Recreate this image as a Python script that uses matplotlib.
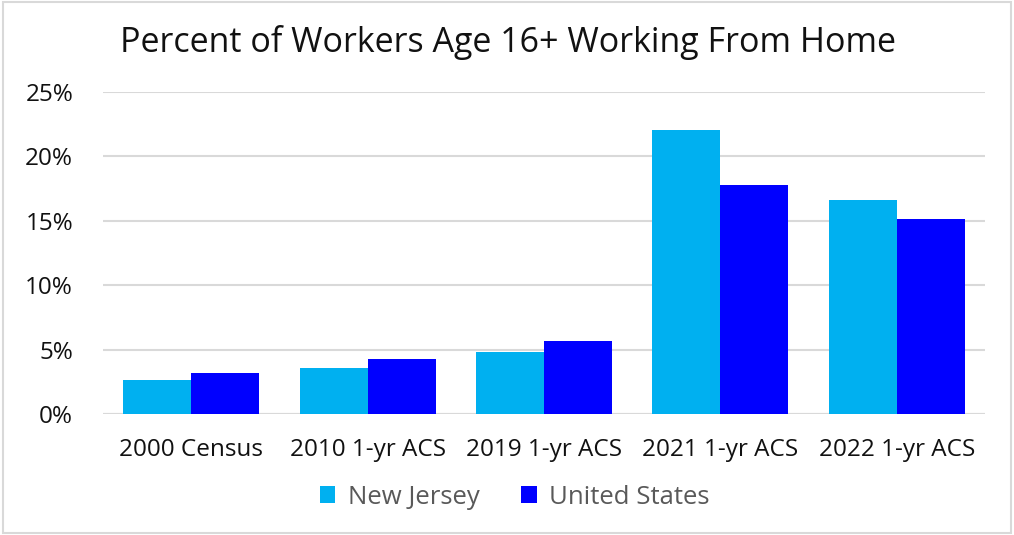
import matplotlib
matplotlib.use("Agg")
import matplotlib.pyplot as plt
from matplotlib.patches import Rectangle
import numpy as np

plt.rcParams["font.family"] = ["Open Sans", "DejaVu Sans"]

categories = ["2000 Census", "2010 1-yr ACS", "2019 1-yr ACS", "2021 1-yr ACS", "2022 1-yr ACS"]
new_jersey = [2.65, 3.55, 4.85, 22.05, 16.6]
united_states = [3.2, 4.25, 5.65, 17.8, 15.15]
yticks = [0, 5, 10, 15, 20, 25]

fig = plt.figure(figsize=(10.14, 5.35), dpi=100)
ax = fig.add_axes([103 / 1014, 1 - 414 / 535, 882 / 1014, (414 - 92) / 535])

x = np.arange(len(categories))
w = 0.385
ax.bar(x - w / 2, new_jersey, w, color="#00b0f0", label="New Jersey", zorder=3)
ax.bar(x + w / 2, united_states, w, color="#0000ff", label="United States", zorder=3)

ax.set_xlim(-0.5, len(categories) - 0.5)
ax.set_ylim(0, 25)
ax.set_yticks(yticks)
ax.set_yticklabels([f"{v}%" for v in yticks])
ax.set_xticks(x)
ax.set_xticklabels(categories)
ax.grid(axis="y", color="#d9d9d9", lw=1.5, zorder=0)
ax.tick_params(length=0, labelsize=17.5, colors="#111111")
ax.tick_params(axis="y", pad=21.5)
ax.tick_params(axis="x", pad=17.5)
for s in ax.spines.values():
    s.set_visible(False)
ax.axhline(0, color="#d9d9d9", lw=1.5, zorder=2)

fig.text(508 / 1014, 1 - 42 / 535, "Percent of Workers Age 16+ Working From Home",
         ha="center", va="center", fontsize=24.5, color="#111111")

leg = fig.legend(loc="center", bbox_to_anchor=(515 / 1014, 1 - 497 / 535), ncol=2,
                 frameon=False, fontsize=18.5, handlelength=0.6, handleheight=0.6,
                 columnspacing=1.6, handletextpad=0.5)
for t in leg.get_texts():
    t.set_color("#595959")

fig.patches.append(Rectangle((3 / 1014, 2 / 535), 1008 / 1014, 531 / 535,
                             transform=fig.transFigure, fill=False,
                             edgecolor="#d9d9d9", lw=1.5))

fig.savefig("out.png", dpi=100, facecolor="white")
